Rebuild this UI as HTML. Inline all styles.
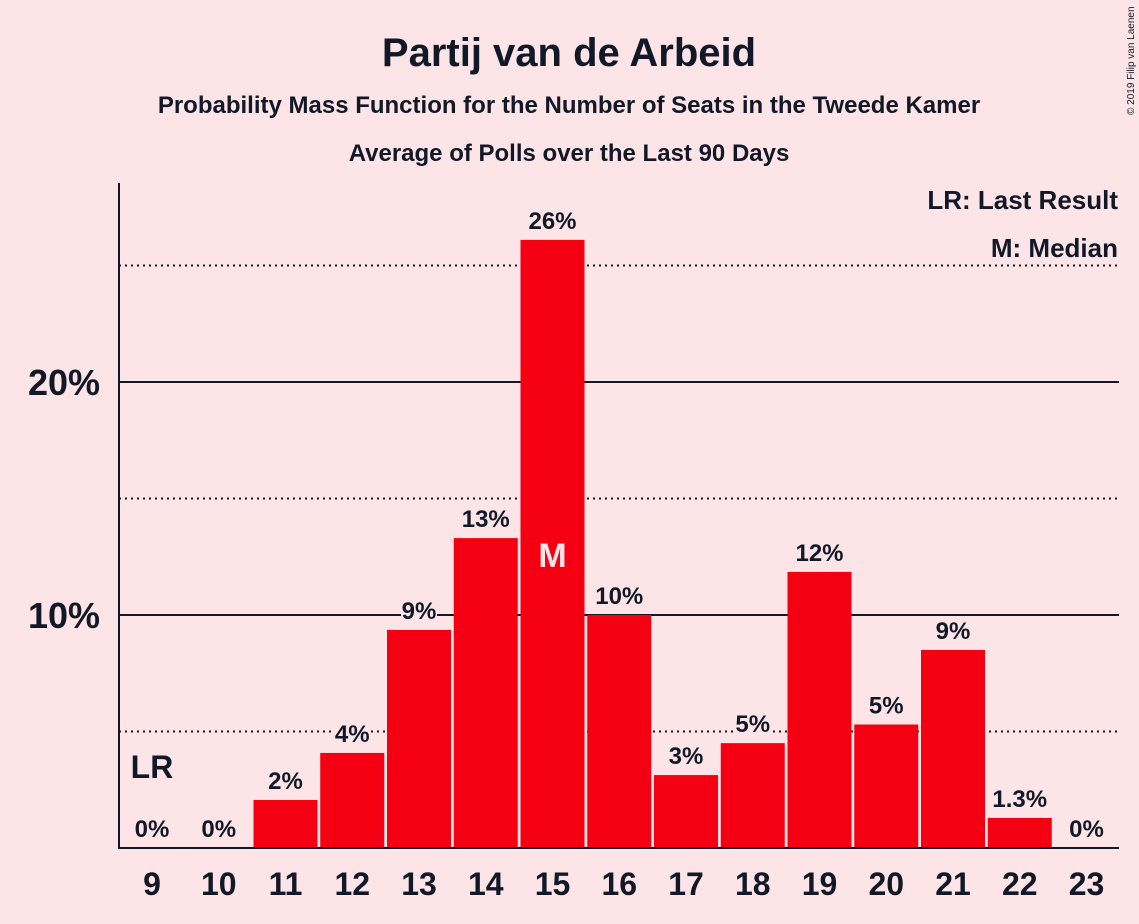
<!DOCTYPE html>
<html><head><meta charset="utf-8"><style>
body{margin:0;background:#fde5e7;}
svg{display:block;font-family:"Liberation Sans",sans-serif;}
</style></head><body>
<svg id="c" width="1139" height="924">
<rect width="1139" height="924" fill="#fde5e7"/>
<text x="569" y="66" text-anchor="middle" font-size="40" font-weight="bold" fill="#111827">Partij van de Arbeid</text>
<text x="569" y="113" text-anchor="middle" font-size="24" font-weight="bold" fill="#111827">Probability Mass Function for the Number of Seats in the Tweede Kamer</text>
<text x="569" y="161" text-anchor="middle" font-size="24" font-weight="bold" fill="#111827">Average of Polls over the Last 90 Days</text>
<text transform="translate(1134,115) rotate(-90)" font-size="10" fill="#111827">© 2019 Filip van Laenen</text>
<g id="grid"></g>
<g id="bars"></g>
<text x="1118" y="209" text-anchor="end" font-size="26" font-weight="bold" fill="#111827">LR: Last Result</text>
<text x="1118" y="257" text-anchor="end" font-size="26" font-weight="bold" fill="#111827">M: Median</text>
<line x1="119" y1="183" x2="119" y2="849" stroke="#111827" stroke-width="2"/>
<line x1="118" y1="848" x2="1119" y2="848" stroke="#111827" stroke-width="2"/>
</svg>
<script>
const seats=[9,10,11,12,13,14,15,16,17,18,19,20,21,22,23];
const probs=[0,0,2.06,4.08,9.36,13.3,26.1,10.0,3.13,4.5,11.85,5.3,8.5,1.29,0];
const valueLabels=["0%","0%","2%","4%","9%","13%","26%","10%","3%","5%","12%","5%","9%","1.3%","0%"];
const yTicks=[10,20];
const yDotted=[5,15,25];
const lastResult=9, median=15;
const NS="http://www.w3.org/2000/svg";
const y=v=>848-v*23.3;
const x=s=>152+(s-9)*66.75;
const bw=64;
function mk(tag,attrs,parent){const e=document.createElementNS(NS,tag);for(const k in attrs)e.setAttribute(k,attrs[k]);parent.appendChild(e);return e;}
const grid=document.getElementById('grid'),bars=document.getElementById('bars');
yDotted.forEach(v=>{const l=mk('line',{x1:119,x2:1119,y1:y(v),y2:y(v),stroke:'#111827','stroke-width':2,'stroke-dasharray':'2,4'},grid);

});
yTicks.forEach(v=>{const l=mk('line',{x1:119,x2:1119,y1:y(v),y2:y(v),stroke:'#111827','stroke-width':2},grid);


const t=mk('text',{x:100,y:y(v)+13,'text-anchor':'end','font-size':36,'font-weight':'bold',fill:'#111827'},grid);t.textContent=v+'%';

});
seats.forEach((s,i)=>{const p=probs[i];const cx=x(s);
if(p>0){const r=mk('rect',{x:cx-bw/2,y:y(p),width:bw,height:848-y(p),fill:'#f40012'},bars);

}
const lw=valueLabels[i].length*13+10;
mk('rect',{x:cx-lw/2,y:y(p)-32,width:lw,height:28,fill:'#fde5e7'},bars);
const t=mk('text',{x:cx,y:y(p)-11,'text-anchor':'middle','font-size':24,'font-weight':'bold',fill:'#111827'},bars);t.textContent=valueLabels[i];


const xt=mk('text',{x:cx,y:895,'text-anchor':'middle','font-size':32,'font-weight':'bold',fill:'#111827'},bars);xt.textContent=s;


if(s===lastResult){const lr=mk('text',{x:cx,y:y(p)-70,'text-anchor':'middle','font-size':32,'font-weight':'bold',fill:'#111827'},bars);lr.textContent='LR';

}
if(s===median){const m=mk('text',{x:cx,y:y(probs[i]*0.48)+11,'text-anchor':'middle','font-size':34,'font-weight':'bold',fill:'#fde5e7'},bars);m.textContent='M';

}
});
</script>
</body></html>
